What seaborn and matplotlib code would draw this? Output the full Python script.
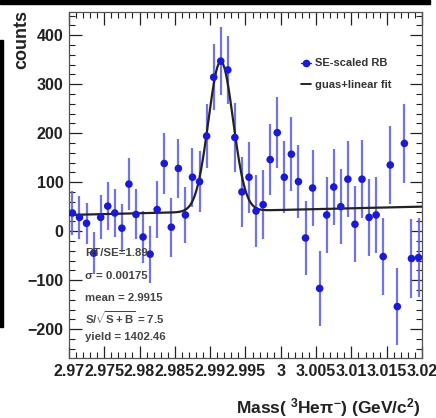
import numpy as np
import pandas as pd
import seaborn as sns
import matplotlib.pyplot as plt
from matplotlib.lines import Line2D
from matplotlib.patches import Rectangle
from matplotlib.ticker import MultipleLocator

# binning of the invariant mass histogram
mass_lo, mass_hi, n_bins = 2.97, 3.02, 50

# bin contents (SE-scaled RB) and their errors
counts = [37, 28, 16, -45, 28, 51, 37, 6, 96, 34,
          -12, -47, 44, 138, 8, 128, 33, 110, 101, 194,
          314, 347, 329, 191, 80, 110, 41, 54, 146, 201,
          110, 157, 101, -14, 88, -117, 33, 90, 50, 106,
          14, 106, 28, 33, -52, 135, -154, 179, -56, -54]
errors = [44, 44, 42, 43, 45, 49, 49, 49, 53, 51,
          54, 58, 58, 62, 60, 60, 58, 60, 62, 65,
          67, 70, 70, 70, 71, 72, 73, 71, 73, 73,
          73, 75, 75, 75, 77, 77, 77, 77, 77, 78,
          78, 79, 78, 78, 78, 79, 78, 80, 80, 80]

# gaus + linear fit parameters
fit_mean = 2.9915
fit_sigma = 0.00175
fit_amp = 306
bg_at_lo = 33
bg_at_hi = 50

stat_lines = ["RT/SE=1.89", "\u03c3 = 0.00175", "mean = 2.9915",
              r"S/$\sqrt{S+B}$ = 7.5", "yield = 1402.46"]
tick_labels = ["2.97", "2.975", "2.98", "2.985", "2.99", "2.995",
               "3", "3.005", "3.01", "3.015", "3.02"]

bin_w = (mass_hi - mass_lo) / n_bins
centers = mass_lo + bin_w * (np.arange(n_bins) + 0.5)
df = pd.DataFrame({"mass": centers, "counts": counts, "err": errors})

xf = np.linspace(mass_lo, mass_hi, 600)
bg = bg_at_lo + (bg_at_hi - bg_at_lo) * (xf - mass_lo) / (mass_hi - mass_lo)
fit = pd.DataFrame({"mass": xf,
                    "y": bg + fit_amp * np.exp(-0.5 * ((xf - fit_mean) / fit_sigma) ** 2)})

sns.set_theme(style="ticks")
plt.rcParams["font.family"] = ["Liberation Sans", "DejaVu Sans"]
plt.rcParams["font.weight"] = "bold"
plt.rcParams["mathtext.fontset"] = "custom"
plt.rcParams["mathtext.rm"] = "Liberation Sans:bold"
plt.rcParams["mathtext.bf"] = "Liberation Sans:bold"
plt.rcParams["mathtext.it"] = "Liberation Sans:bold"
plt.rcParams["mathtext.default"] = "bf"

fig = plt.figure(figsize=(4.36, 4.18), dpi=100)
ax = fig.add_axes([0.158, 0.1435, 0.81, 0.8275])

pt_color = "#1a1ad6"
bar_color = "#6464e0"
ax.errorbar(df["mass"], df["counts"], yerr=df["err"], fmt="none",
            ecolor=bar_color, elinewidth=1.6, alpha=0.9, zorder=2)
sns.lineplot(data=fit, x="mass", y="y", color="#222222", lw=1.6, ax=ax, zorder=3)
sns.scatterplot(data=df, x="mass", y="counts", color=pt_color, s=30,
                edgecolor="none", ax=ax, zorder=4)

ax.set_xlim(mass_lo, mass_hi)
ax.set_ylim(-259, 447)
ax.xaxis.set_minor_locator(MultipleLocator(0.001))
ax.yaxis.set_major_locator(MultipleLocator(100))
ax.yaxis.set_minor_locator(MultipleLocator(20))
ax.set_xticks(np.arange(0, 11) * 0.005 + mass_lo)
ax.set_xticklabels(tick_labels)
ax.tick_params(which="both", direction="in", top=True, right=True,
               labelsize=11.5, colors="#222222", pad=4)
ax.tick_params(which="major", length=9, width=0.9)
ax.tick_params(which="minor", length=4.5, width=0.8)
for lab in ax.get_xticklabels() + ax.get_yticklabels():
    lab.set_fontweight("bold")
for s in ax.spines.values():
    s.set_color("#555555")
    s.set_linewidth(0.9)

ax.set_xlabel("")
ax.set_ylabel("")
fig.text(0.965, 0.025, "Mass( $^{3}$He$\\pi^{-}$) (GeV/c$^{2}$)", ha="right",
         va="center", fontsize=12.5, fontweight="bold", color="#222222")
fig.text(0.05, 0.975, "counts", rotation=90, ha="center", va="top",
         fontsize=13, fontweight="bold", color="#222222")

handles = [Line2D([], [], color=pt_color, marker="o", markersize=4.5, lw=1.0),
           Line2D([], [], color="black", lw=1.2)]
ax.legend(handles, ["SE-scaled RB", "guas+linear fit"], loc="upper left",
          bbox_to_anchor=(0.63, 0.895), frameon=False,
          handlelength=0.9, handletextpad=0.3, labelspacing=1.05,
          labelcolor="#333333", prop={"weight": "bold", "size": 8})

for yy, txt in zip([0.303, 0.237, 0.173, 0.116, 0.061], stat_lines):
    ax.text(0.045, yy, txt, transform=ax.transAxes, fontsize=8.2,
            fontweight="bold", color="#444444", va="center", ha="left", zorder=5)

# dark edges of the screenshot
fig.patches.append(Rectangle((0, 0.99), 0.986, 0.01, transform=fig.transFigure,
                             color="black", zorder=10))
fig.patches.append(Rectangle((0, 0.217), 0.008, 0.687, transform=fig.transFigure,
                             color="black", zorder=10))

fig.savefig("out.png", dpi=100)
